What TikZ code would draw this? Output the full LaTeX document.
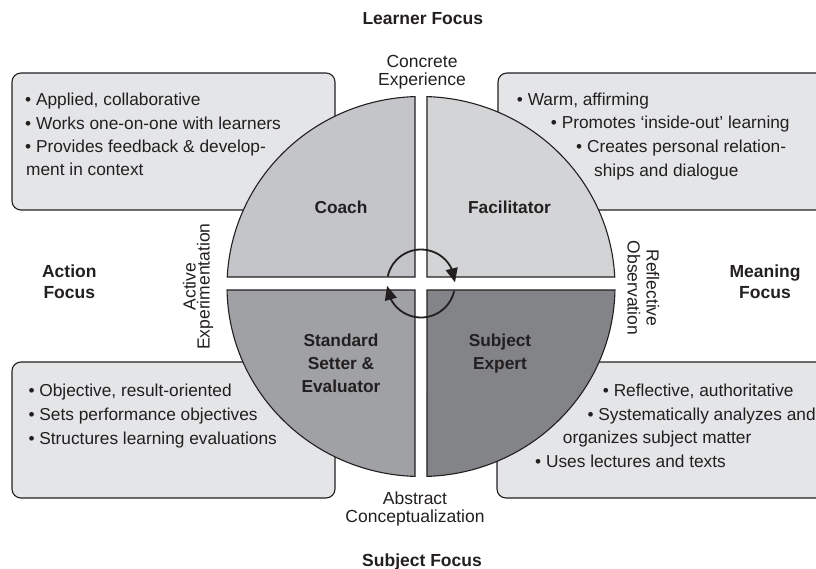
\documentclass[tikz,border=0pt]{standalone}
\usepackage{fontspec}
\setmainfont{Liberation Sans}
\usetikzlibrary{arrows.meta,bending}

\definecolor{boxgray}{RGB}{228,229,231}
\definecolor{coachgray}{RGB}{196,197,200}
\definecolor{facilgray}{RGB}{211,212,214}
\definecolor{judgegray}{RGB}{160,161,164}
\definecolor{expertgray}{RGB}{131,132,135}
\definecolor{ink}{RGB}{35,31,32}

\begin{document}
\begin{tikzpicture}[x=1pt, y=-1pt, >={Triangle[length=14pt,width=12pt]}, text=ink,
    infobox/.style={draw=ink, fill=boxgray, line width=1.1pt, rounded corners=9pt},
    quad/.style={draw=ink, line width=1.1pt},
    bodyline/.style={inner sep=0pt, anchor=base west, font=\fontsize{17.3}{23}\selectfont},
    role/.style={inner sep=0pt, align=center, font=\fontsize{17.3}{23}\selectfont\bfseries},
    pole/.style={inner sep=0pt, align=center, font=\fontsize{17.5}{18}\selectfont},
    focus/.style={inner sep=0pt, align=center, font=\fontsize{17.5}{21}\selectfont\bfseries}]
    \useasboundingbox (0,0) rectangle (816,569);
    \clip (0,0) rectangle (816,569);

    % the four boxes
    \draw[infobox] (12,73)  rectangle (335,210);
    \draw[infobox] (498,73) rectangle (840,210);
    \draw[infobox] (12,362) rectangle (335,498);
    \draw[infobox] (497,362) rectangle (840,498);

    % the circle, cut in four
    \coordinate (ctr) at (421,286.5);
    \filldraw[quad, fill=coachgray]  (ctr) ++(182.87:194 and 190) arc[start angle=182.87, end angle=268.23, x radius=194, y radius=190] -- (415,277) -- cycle;
    \filldraw[quad, fill=facilgray]  (ctr) ++(271.77:194 and 190) arc[start angle=271.77, end angle=357.13, x radius=194, y radius=190] -- (427,277) -- cycle;
    \filldraw[quad, fill=expertgray] (ctr) ++(1.055:194 and 190)  arc[start angle=1.055,  end angle=88.23,  x radius=194, y radius=190] -- (427,290) -- cycle;
    \filldraw[quad, fill=judgegray]  (ctr) ++(91.77:194 and 190)  arc[start angle=91.77,  end angle=178.945, x radius=194, y radius=190] -- (415,290) -- cycle;

    % cycle arrows
    \coordinate (cyc) at (421,283.5);
    \draw[->, draw=ink, line width=1.8pt] (cyc) ++(192:34) arc[start angle=192, end angle=358, radius=34];
    \draw[->, draw=ink, line width=1.8pt] (cyc) ++(13:34)  arc[start angle=13,  end angle=176, radius=34];

    % roles
    \node[role] (coach)  at (341,207.5)   {Coach};
    \node[role] (facil)  at (509.5,207.5) {Facilitator};
    \node[role] (judge)  at (341,363.5)   {Standard\\Setter \&\\Evaluator};
    \node[role] (expert) at (500,353.8)   {Subject\\Expert};

    % learning modes
    \node[pole] (ce) at (422,71.8)  {Concrete\\Experience};
    \node[pole] (ac) at (415,509)   {Abstract\\Conceptualization};
    \node[pole, rotate=90, font=\fontsize{17.5}{14}\selectfont]  (ae) at (198,286.5) {Active\\Experimentation};
    \node[pole, rotate=-90, font=\fontsize{17.5}{19}\selectfont] (ro) at (643.4,288) {Reflective\\Observation};

    % focus
    \node[focus, anchor=base] (learner) at (422.8,25)  {Learner Focus};
    \node[focus, anchor=base] (subject) at (422,566.5) {Subject Focus};
    \node[focus] (action)  at (69.3,281.3) {Action\\Focus};
    \node[focus] (meaning) at (765,281.3)  {Meaning\\Focus};

    % box texts
    \node[bodyline] (tl1) at (25,106)   {• Applied, collaborative};
    \node[bodyline] (tl2) at (25,129.3) {• Works one-on-one with learners};
    \node[bodyline] (tl3) at (25,152.7) {• Provides feedback \& develop-};
    \node[bodyline] (tl4) at (26,176)   {ment in context};

    \node[bodyline] (tr1) at (516.7,105.7) {• Warm, affirming};
    \node[bodyline] (tr2) at (550.7,129)   {• Promotes ‘inside-out’ learning};
    \node[bodyline] (tr3) at (576,152.7)   {• Creates personal relation-};
    \node[bodyline] (tr4) at (594,176.5)   {ships and dialogue};

    \node[bodyline] (bl1) at (28.3,396.7) {• Objective, result-oriented};
    \node[bodyline] (bl2) at (28.3,420.7) {• Sets performance objectives};
    \node[bodyline] (bl3) at (28.3,444)   {• Structures learning evaluations};

    \node[bodyline] (br1) at (602.7,396)   {• Reflective, authoritative};
    \node[bodyline] (br2) at (587.3,420)   {• Systematically analyzes and};
    \node[bodyline] (br3) at (562.7,443.3) {organizes subject matter};
    \node[bodyline] (br4) at (535,467.7)   {• Uses lectures and texts};
\end{tikzpicture}
\end{document}
